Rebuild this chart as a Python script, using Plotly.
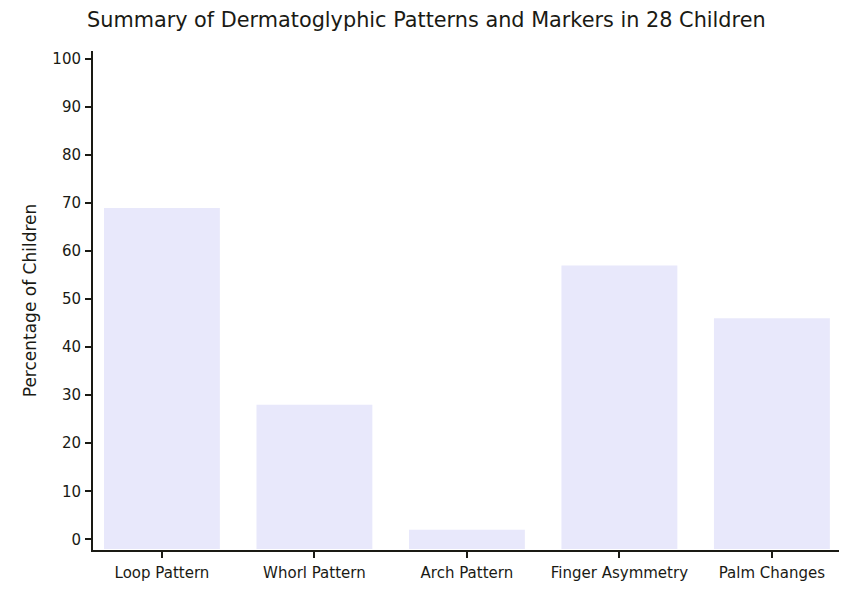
import plotly.graph_objects as go

categories = ["Loop Pattern", "Whorl Pattern", "Arch Pattern", "Finger Asymmetry", "Palm Changes"]
percentages = [69, 28, 2, 57, 46]
y_ticks = [0, 10, 20, 30, 40, 50, 60, 70, 80, 90, 100]

FONT = "DejaVu Sans"
INK = "#1a1a14"
BAR_BASE = -2.0  # bars start at the x-axis line, slightly below zero

fig = go.Figure(
    go.Bar(
        x=categories,
        y=[v - BAR_BASE for v in percentages],
        base=BAR_BASE,
        marker=dict(color="#e8e8fb", line=dict(width=0)),
        hovertext=[f"{c}: {v}%" for c, v in zip(categories, percentages)],
        hoverinfo="text",
    )
)

fig.update_layout(
    width=859,
    height=593,
    margin=dict(l=85, r=28, t=43, b=51),
    paper_bgcolor="white",
    plot_bgcolor="white",
    bargap=0.24,
    showlegend=False,
    font=dict(family=FONT, color=INK, size=15),
    title=dict(
        text="Summary of Dermatoglyphic Patterns and Markers in 28 Children",
        x=0.487,
        xref="container",
        xanchor="center",
        y=0.98,
        yref="container",
        yanchor="middle",
        font=dict(family=FONT, size=20.8, color=INK),
    ),
    xaxis=dict(
        type="category",
        range=[-0.452, 4.44],
        showline=True,
        linecolor=INK,
        linewidth=2,
        ticks="outside",
        ticklen=6,
        tickwidth=2,
        tickcolor=INK,
        showgrid=False,
        zeroline=False,
        automargin=False,
        ticklabelstandoff=2,
        tickfont=dict(family=FONT, size=15, color=INK),
    ),
    yaxis=dict(
        range=[-2.23, 101.67],
        tickvals=y_ticks,
        showline=True,
        linecolor=INK,
        linewidth=2,
        ticks="outside",
        ticklen=6,
        tickwidth=2,
        tickcolor=INK,
        showgrid=False,
        zeroline=False,
        automargin=False,
        ticklabelstandoff=1,
        tickfont=dict(family=FONT, size=15, color=INK),
        title=dict(text="Percentage of Children", font=dict(family=FONT, size=17, color=INK), standoff=11),
    ),
)

fig.write_html("out.html")
